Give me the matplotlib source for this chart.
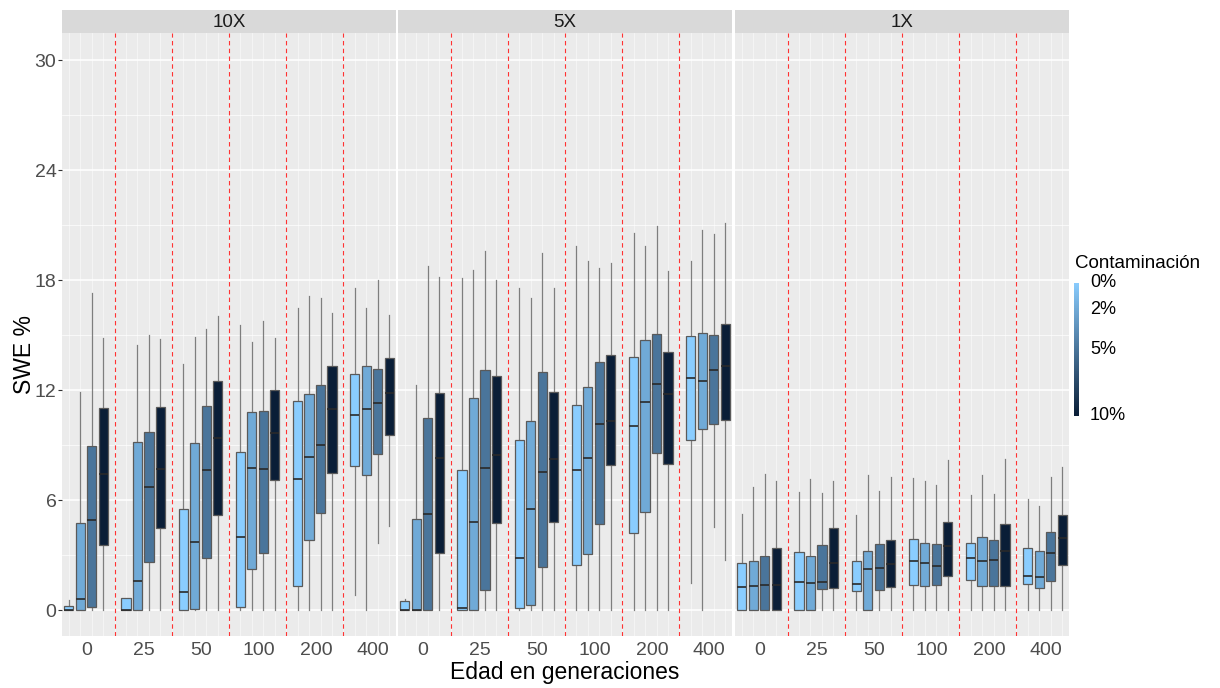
import matplotlib.pyplot as plt
import matplotlib.colors as mcolors
import numpy as np

plt.rcParams['font.family'] = ['Liberation Sans', 'DejaVu Sans']

# datos (SWE %), 6 edades x 4 niveles de contaminacion
facetas = ['10X', '5X', '1X']
edades = ['0', '25', '50', '100', '200', '400']
contaminacion = [0, 2, 5, 10]

# 10X
q1_10x = [[0, 0, 0.18, 3.55], [0, 0, 2.64, 4.51], [0.04, 0.07, 2.85, 5.18],
          [0.18, 2.27, 3.15, 7.09], [1.31, 3.86, 5.31, 7.47], [7.86, 7.40, 8.51, 9.57]]
med_10x = [[0, 0.64, 4.95, 7.42], [0, 1.60, 6.75, 7.71], [1.02, 3.71, 7.65, 9.40],
           [3.98, 7.76, 7.71, 9.66], [7.18, 8.36, 9.02, 10.98], [10.66, 10.97, 11.29, 11.88]]
q3_10x = [[0.22, 4.76, 8.95, 11.06], [0.69, 9.18, 9.71, 11.11], [5.55, 9.15, 11.17, 12.49],
          [8.64, 10.80, 10.87, 12.04], [11.40, 11.82, 12.27, 13.33], [12.91, 13.33, 13.15, 13.76]]
lo_10x = [[0, 0, 0, 0], [0, 0, 0, 0], [0, 0, 0, 0],
          [0, 0, 0, 0], [0, 0, 0, 0], [0.86, 0, 3.69, 4.58]]
hi_10x = [[0.55, 11.9, 17.3, 14.86], [0.69, 14.5, 15.04, 14.82], [13.46, 14.91, 15.33, 16.06],
          [15.58, 14.64, 15.78, 14.88], [16.51, 17.15, 17.02, 16.24], [17.58, 16.49, 18.04, 16.13]]

# 5X
q1_5x = [[0, 0, 0, 3.13], [0, 0, 1.13, 4.76], [0.11, 0.31, 2.38, 4.84],
         [2.49, 3.09, 4.73, 7.91], [4.24, 5.35, 8.60, 7.97], [9.27, 9.87, 10.18, 10.40]]
med_5x = [[0, 0, 5.27, 8.31], [0.15, 4.82, 7.78, 8.46], [2.87, 5.51, 7.55, 8.27],
          [7.64, 8.31, 10.15, 10.35], [10.04, 11.36, 12.35, 11.78], [12.67, 12.49, 13.13, 13.33]]
q3_5x = [[0.49, 4.98, 10.51, 11.87], [7.64, 11.60, 13.11, 12.78], [9.29, 10.35, 13.00, 11.91],
         [11.22, 12.18, 13.57, 13.95], [13.80, 14.75, 15.10, 14.11], [14.95, 15.15, 15.00, 15.62]]
lo_5x = [[0, 0, 0, 0], [0, 0, 0, 0], [0, 0, 0, 0],
         [0, 0, 0, 0], [0, 0, 0, 0], [1.51, 0, 4.55, 2.76]]
hi_5x = [[0.64, 12.27, 18.78, 18.18], [18.13, 18.55, 19.60, 18.00], [17.60, 17.04, 19.51, 17.60],
         [19.86, 19.04, 18.70, 18.97], [20.60, 19.86, 20.95, 18.49], [19.06, 20.73, 20.51, 21.15]]

# 1X
q1_1x = [[0, 0, 0, 0], [0, 0, 1.15, 1.20], [1.07, 0, 1.13, 1.27],
         [1.40, 1.35, 1.40, 1.89], [1.67, 1.35, 1.35, 1.35], [1.45, 1.24, 1.60, 2.49]]
med_1x = [[1.27, 1.35, 1.36, 1.40], [1.55, 1.49, 1.53, 2.60], [1.44, 2.24, 2.31, 2.53],
          [2.67, 2.60, 2.44, 3.51], [2.85, 2.69, 2.75, 3.22], [1.87, 1.80, 3.11, 3.96]]
q3_1x = [[2.56, 2.71, 2.98, 3.40], [3.20, 2.95, 3.56, 4.47], [2.71, 3.26, 3.60, 3.86],
         [3.91, 3.66, 3.64, 4.80], [3.69, 3.98, 3.84, 4.69], [3.40, 3.22, 4.29, 5.22]]
lo_1x = [[0, 0, 0, 0], [0, 0, 0, 0], [0, 0, 0, 0],
         [0, 0, 0, 0], [0, 0, 0, 0], [0, 0, 0, 0]]
hi_1x = [[5.27, 6.71, 7.42, 7.04], [6.44, 7.15, 6.40, 7.07], [5.22, 7.36, 6.53, 7.26],
         [7.24, 7.06, 6.86, 8.22], [6.27, 7.40, 6.33, 8.25], [6.09, 5.69, 7.26, 7.80]]

datos = {
    '10X': (q1_10x, med_10x, q3_10x, lo_10x, hi_10x),
    '5X': (q1_5x, med_5x, q3_5x, lo_5x, hi_5x),
    '1X': (q1_1x, med_1x, q3_1x, lo_1x, hi_1x),
}

cmap = mcolors.LinearSegmentedColormap.from_list('contam', ['#8ACDFF', '#0A1E37'])
norm = mcolors.Normalize(0, 10)

W, H = 1220, 688
fig = plt.figure(figsize=(W / 100, H / 100), dpi=100)

panel_x = [62, 398, 735]
panel_w = 334
panel_top, panel_bot = 33, 636
strip_h = 23

for i, f in enumerate(facetas):
    ax = fig.add_axes([panel_x[i] / W, 1 - panel_bot / H, panel_w / W, (panel_bot - panel_top) / H])
    ax.set_facecolor('#EBEBEB')
    q1, med, q3, lo, hi = datos[f]

    stats, pos, cols = [], [], []
    for g in range(len(edades)):
        for k, c in enumerate(contaminacion):
            stats.append(dict(q1=q1[g][k], med=med[g][k], q3=q3[g][k],
                              whislo=lo[g][k], whishi=hi[g][k], fliers=[]))
            pos.append(1 + 5 * g + k)
            cols.append(cmap(norm(c)))

    # rejilla
    for y in np.arange(0, 31, 6):
        ax.axhline(y, color='white', lw=1.1, zorder=0)
    for y in np.arange(3, 31, 6):
        ax.axhline(y, color='white', lw=0.5, zorder=0)
    for x in range(1, 30):
        ax.axvline(x, color='white', lw=0.5, alpha=0.7, zorder=0)

    bp = ax.bxp(stats, positions=pos, widths=0.8, patch_artist=True, showcaps=False,
                showfliers=False, manage_ticks=False,
                boxprops=dict(edgecolor='#5a5a5a', linewidth=0.9),
                whiskerprops=dict(color='#6a6a6a', linewidth=0.9, alpha=0.85),
                medianprops=dict(color='#2a2a2a', linewidth=1.2))
    for patch, col in zip(bp['boxes'], cols):
        patch.set_facecolor(col)
        patch.set_zorder(3)
    for m in bp['medians']:
        m.set_zorder(4)

    for g in range(len(edades) - 1):
        ax.axvline(5 + 5 * g, color='#FF3333', lw=0.8, ls=(0, (4, 3)), zorder=2)

    ax.set_xlim(0.4, 29.6)
    ax.set_ylim(-1.4, 31.5)
    ax.set_xticks([2.6 + 5 * g for g in range(len(edades))])
    ax.set_xticklabels(edades, fontsize=14, color='#4D4D4D')
    ax.tick_params(axis='x', length=0, pad=4)
    ax.set_yticks(np.arange(0, 31, 6))
    if i == 0:
        ax.set_yticklabels([str(v) for v in range(0, 31, 6)], fontsize=14, color='#4D4D4D')
        ax.tick_params(axis='y', length=3, color='#333333', pad=1)
    else:
        ax.tick_params(axis='y', length=0, labelleft=False)
    for s in ax.spines.values():
        s.set_visible(False)

    # banda del facet
    sax = fig.add_axes([panel_x[i] / W, 1 - panel_top / H, panel_w / W, strip_h / H])
    sax.set_facecolor('#D9D9D9')
    sax.set_xticks([])
    sax.set_yticks([])
    for s in sax.spines.values():
        s.set_visible(False)
    sax.text(0.5, 0.45, f, ha='center', va='center', fontsize=13.5, color='#1A1A1A',
             transform=sax.transAxes)

fig.text(25 / W, 1 - 354 / H, 'SWE %', rotation=90, ha='center', va='center', fontsize=16.5)
fig.text(565 / W, 1 - 672 / H, 'Edad en generaciones', ha='center', va='center', fontsize=16.5)

# leyenda de color
fig.text(1075 / W, 1 - 263 / H, 'Contaminación', ha='left', va='center', fontsize=13.5)
cax = fig.add_axes([1074 / W, 1 - 416 / H, 5 / W, 133 / H])
grad = np.linspace(0, 10, 200).reshape(-1, 1)
cax.imshow(grad, aspect='auto', cmap=cmap, norm=norm, extent=[0, 1, 10, 0])
cax.set_xticks([])
cax.set_yticks([])
for s in cax.spines.values():
    s.set_visible(False)
for c in contaminacion:
    cax.text(3.2, c, f'{c}%', ha='left', va='center', fontsize=13, transform=cax.transData,
             clip_on=False)

fig.savefig('out.png', dpi=100)
